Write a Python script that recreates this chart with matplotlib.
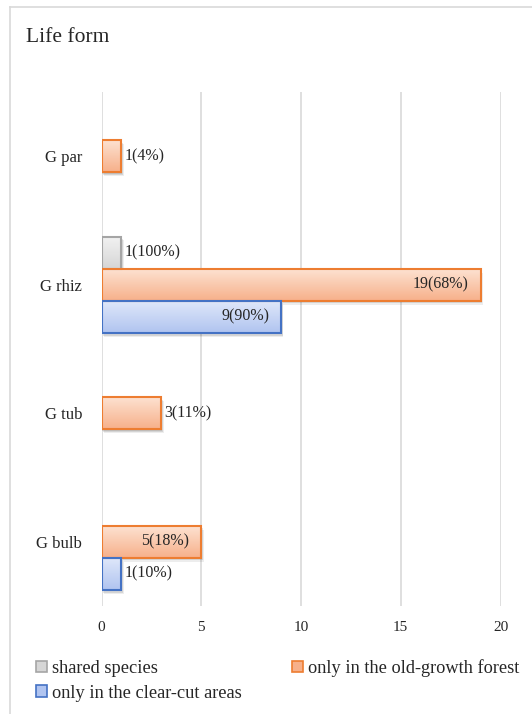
import numpy as np
import matplotlib
matplotlib.use("Agg")
import matplotlib.pyplot as plt
from matplotlib.patches import Rectangle
from matplotlib.lines import Line2D

plt.rcParams['font.family'] = 'serif'
plt.rcParams['font.serif'] = ['Liberation Serif', 'DejaVu Serif']

# data
categories = ["G par", "G rhiz", "G tub", "G bulb"]
series_names = ["shared species", "only in the old-growth forest", "only in the clear-cut areas"]
shared = [0, 1, 0, 0]
old_growth = [1, 19, 3, 5]
clear_cut = [0, 9, 0, 1]
shared_labels = ["", "1(100%)", "", ""]
old_labels = ["1(4%)", "19(68%)", "3(11%)", "5(18%)"]
clear_labels = ["", "9(90%)", "", "1(10%)"]
x_ticks = [0, 5, 10, 15, 20]

# colours: (edge, top of gradient, bottom of gradient)
styles = [
    ("#A5A5A5", "#F2F2F2", "#D6D6D6"),
    ("#ED7D31", "#FDE3D3", "#F7B08A"),
    ("#4472C4", "#E0E8FA", "#B0C4F0"),
]

W, H, DPI = 532, 714, 100
fig = plt.figure(figsize=(W / DPI, H / DPI), dpi=DPI)

# chart border (only left and top visible in the crop)
fig.add_artist(Line2D([10 / W, 10 / W], [0, 1 - 7 / H], transform=fig.transFigure, color="#D9D9D9", lw=1.2))
fig.add_artist(Line2D([10 / W, 1], [1 - 7 / H, 1 - 7 / H], transform=fig.transFigure, color="#D9D9D9", lw=1.2))

fig.text(26 / W, 1 - 38 / H, "Life form", fontsize=15.5, va="center", ha="left", color="#262626")

ax_l, ax_r, ax_t, ax_b = 101.5, 500.5, 92, 606
ax = fig.add_axes([ax_l / W, 1 - ax_b / H, (ax_r - ax_l) / W, (ax_b - ax_t) / H])

n = len(categories)
ypos = np.arange(n)[::-1]  # G par at the top
bar_h = 0.25
offsets = [bar_h, 0, -bar_h]
all_vals = [shared, old_growth, clear_cut]
all_labels = [shared_labels, old_labels, clear_labels]

px_x = 20 / (ax_r - ax_l)  # data units per pixel
px_y = n / (ax_b - ax_t)


def grad_bar(x0, x1, yc, h, edge, c_top, c_bot, z=3):
    y0, y1 = yc - h / 2, yc + h / 2
    # soft shadow
    for k, a in [(1.0, 0.10), (2.0, 0.10), (3.0, 0.07)]:
        ax.add_patch(Rectangle((x0 + k * 0.8 * px_x, y0 - k * 1.3 * px_y), x1 - x0, h,
                               facecolor="#000000", edgecolor="none", alpha=a, zorder=z - 1))
    top = np.array(matplotlib.colors.to_rgb(c_top))
    bot = np.array(matplotlib.colors.to_rgb(c_bot))
    t = np.linspace(0, 1, 64)[:, None, None]
    img = top * (1 - t) + bot * t
    ax.imshow(img, extent=(x0, x1, y0, y1), origin="upper", aspect="auto", zorder=z,
              interpolation="bilinear")
    ax.add_patch(Rectangle((x0, y0), x1 - x0, h, facecolor="none", edgecolor=edge,
                           lw=1.5, zorder=z + 0.5))


for s, (vals, labels) in enumerate(zip(all_vals, all_labels)):
    edge, ct, cb = styles[s]
    for i, v in enumerate(vals):
        if v <= 0:
            continue
        yc = ypos[i] + offsets[s]
        grad_bar(0, v, yc, bar_h, edge, ct, cb)
        if v >= 5:
            ax.text(v - 12 * px_x, yc, labels[i], ha="right", va="center", fontsize=11.5,
                    color="#262626", zorder=6)
        else:
            ax.text(v + 3 * px_x, yc, labels[i], ha="left", va="center", fontsize=11.5,
                    color="#262626", zorder=6)

ax.set_xlim(0, 20)
ax.set_ylim(-0.5, n - 0.5)
ax.set_xticks(x_ticks)
ax.set_yticks(ypos)
ax.set_yticklabels(categories)
ax.grid(axis="x", color="#D9D9D9", lw=1.2, zorder=0)
ax.set_axisbelow(True)
for sp in ax.spines.values():
    sp.set_visible(False)
ax.tick_params(axis="x", length=0, pad=11, labelsize=11, labelcolor="#262626")
ax.tick_params(axis="y", length=0, pad=14, labelsize=12, labelcolor="#262626")

handles = [Rectangle((0, 0), 1, 1, facecolor=styles[k][2], edgecolor=styles[k][0], lw=1.2)
           for k in range(3)]
# column-major order: shared / clear-cut in the first column, old-growth in the second
order = [0, 2, 1]
fig.legend([handles[k] for k in order], [series_names[k] for k in order],
           loc="upper left", bbox_to_anchor=(36 / W, 1 - 659 / H), ncol=2,
           frameon=False, fontsize=13.2, handlelength=0.6, handleheight=0.6,
           handletextpad=0.3, columnspacing=2.7, labelspacing=0.42, borderaxespad=0,
           borderpad=0, labelcolor="#262626")

fig.savefig("out.png", dpi=DPI)
